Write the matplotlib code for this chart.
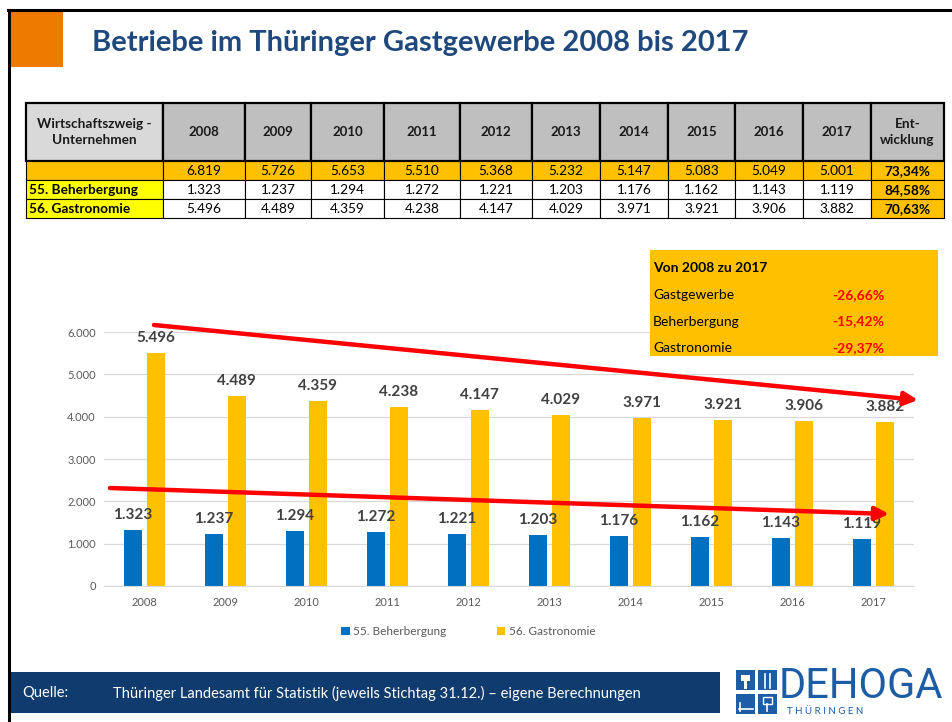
import matplotlib
matplotlib.use('Agg')
import matplotlib.pyplot as plt
from matplotlib.patches import Rectangle
import numpy as np

## Data
years = ['2008', '2009', '2010', '2011', '2012', '2013', '2014', '2015', '2016', '2017']
gesamt = [6819, 5726, 5653, 5510, 5368, 5232, 5147, 5083, 5049, 5001]
beherbergung = [1323, 1237, 1294, 1272, 1221, 1203, 1176, 1162, 1143, 1119]
gastronomie = [5496, 4489, 4359, 4238, 4147, 4029, 3971, 3921, 3906, 3882]
row_labels = ['', '55. Beherbergung', '56. Gastronomie']
entwicklung = ['73,34%', '84,58%', '70,63%']
box_labels = ['Gastgewerbe', 'Beherbergung', 'Gastronomie']
box_changes = ['-26,66%', '-15,42%', '-29,37%']

## Colours
BLUE = '#0070C0'
ORANGE = '#FFC000'
TITLE_BLUE = '#1F497D'
NAVY = '#0F3B6F'
FONT = 'Lato'

plt.rcParams['font.family'] = [FONT, 'DejaVu Sans']

W, H = 953, 722
fig = plt.figure(figsize=(W / 100, H / 100), dpi=100)


def px_axes(z):
    a = fig.add_axes([0, 0, 1, 1], zorder=z)
    a.set_xlim(0, W)
    a.set_ylim(H, 0)
    a.axis('off')
    a.patch.set_alpha(0)
    return a


def fmt(v):
    return f'{v:,}'.replace(',', '.')


bg = px_axes(0)

# frame + orange square + title
bg.plot([9, 9], [10, H], color='black', lw=2.2)
bg.plot([8, W], [10, 10], color='black', lw=2.2)
bg.add_patch(Rectangle((10, 12), 53, 55, color='#EE7B00', lw=0))
bg.text(92, 43, 'Betriebe im Thüringer Gastgewerbe 2008 bis 2017', fontsize=21,
        fontweight='bold', color=TITLE_BLUE, va='center', ha='left')

# table
col_edges = [26, 163, 245, 311, 384, 460, 532, 600, 668, 735, 803, 871, 944]
row_edges = [103, 161, 180, 199, 218]
header = ['Wirtschaftszweig -\nUnternehmen'] + years + ['Ent-\nwicklung']
rows = [
    [row_labels[0]] + [fmt(v) for v in gesamt] + [entwicklung[0]],
    [row_labels[1]] + [fmt(v) for v in beherbergung] + [entwicklung[1]],
    [row_labels[2]] + [fmt(v) for v in gastronomie] + [entwicklung[2]],
]
for j in range(len(col_edges) - 1):
    x0, x1 = col_edges[j], col_edges[j + 1]
    fc = '#D9D9D9' if j == 0 else '#BFBFBF'
    bg.add_patch(Rectangle((x0, row_edges[0]), x1 - x0, row_edges[1] - row_edges[0],
                           facecolor=fc, edgecolor='black', lw=1.6))
    bg.text((x0 + x1) / 2, (row_edges[0] + row_edges[1]) / 2, header[j],
            fontsize=9.8 if j in (0, len(col_edges) - 2) else 9.5,
            fontweight='bold', ha='center', va='center', color='#1a1a1a', linespacing=1.5)
    for i, r in enumerate(rows):
        y0, y1 = row_edges[i + 1], row_edges[i + 2]
        last = j == len(col_edges) - 2
        if i == 0 or last:
            fc = ORANGE
        elif j == 0:
            fc = '#FFFF00'
        else:
            fc = 'white'
        bg.add_patch(Rectangle((x0, y0), x1 - x0, y1 - y0, facecolor=fc,
                               edgecolor='black', lw=0.8))
        if j == 0:
            bg.text(x0 + 3, (y0 + y1) / 2 + 0.5, r[j], fontsize=9.8, fontweight='bold',
                    ha='left', va='center', color='black')
        else:
            bg.text((x0 + x1) / 2, (y0 + y1) / 2 + 0.5, r[j], fontsize=9.8,
                    fontweight='bold' if last else 'normal', ha='center', va='center',
                    color='black')

# footer
bg.add_patch(Rectangle((10, 672), 710, 41, color=NAVY, lw=0))
bg.text(22, 693, 'Quelle:', fontsize=10.5, color='white', va='center')
bg.text(113, 693, 'Thüringer Landesamt für Statistik (jeweils Stichtag 31.12.) – eigene Berechnungen',
        fontsize=10.5, color='white', va='center')

# logo
LOGO = '#1C5DA6'
for (lx, ly) in [(736, 670), (758, 670), (736, 694), (758, 694)]:
    bg.add_patch(Rectangle((lx, ly), 19, 20, color=LOGO, lw=0))
bg.add_patch(Rectangle((741, 675), 9, 6, color='white', lw=0))
bg.add_patch(Rectangle((744, 681), 3, 8, color='white', lw=0))
bg.plot([765, 765], [674, 688], color='white', lw=1.2)
bg.plot([770, 770], [674, 688], color='white', lw=1.2)
bg.plot([739, 753], [709, 709], color='white', lw=1.2)
bg.plot([740, 740], [703, 711], color='white', lw=1.2)
bg.plot([767.5, 767.5], [704, 711], color='white', lw=1.2)
bg.add_patch(Rectangle((763, 697), 9, 7, facecolor='none', edgecolor='white', lw=1))
bg.text(779, 686, 'DEHOGA', fontsize=30, color=LOGO, va='center', ha='left',
        family='Roboto')
bg.text(787, 712, 'T H Ü R I N G E N', fontsize=7, color=LOGO, va='center', ha='left')

# chart
ax = fig.add_axes([104 / W, 1 - 586 / H, 810 / W, (586 - 332) / H], zorder=1)
ax.patch.set_alpha(0)
x = np.arange(len(years))
bw = 0.22
b1 = ax.bar(x - 0.145, beherbergung, bw, color=BLUE, label='55. Beherbergung', zorder=2)
b2 = ax.bar(x + 0.14, gastronomie, bw, color=ORANGE, label='56. Gastronomie', zorder=2)
for bars in (b1, b2):
    for rect in bars:
        h = rect.get_height()
        ax.text(rect.get_x() + rect.get_width() / 2, h + 190, fmt(int(h)), ha='center',
                va='bottom', fontsize=11, fontweight='bold', color='#404040')
ax.set_xlim(-0.5, len(years) - 0.5)
ax.set_ylim(0, 6000)
ax.set_yticks(range(0, 6001, 1000))
ax.set_yticklabels([fmt(v) for v in range(0, 6001, 1000)])
ax.set_xticks(x)
ax.set_xticklabels(years)
ax.tick_params(length=0, labelsize=8, labelcolor='#595959', pad=8)
ax.tick_params(axis='y', pad=6)
ax.grid(axis='y', color='#D9D9D9', lw=0.9, zorder=0)
ax.set_axisbelow(True)
for s in ['top', 'right', 'left']:
    ax.spines[s].set_visible(False)
ax.spines['bottom'].set_color('#D9D9D9')
leg = ax.legend(loc='upper center', bbox_to_anchor=(0.45, -0.115), ncol=2, frameon=False,
                fontsize=8.5, handlelength=0.7, handleheight=0.7, columnspacing=4.3,
                handletextpad=0.3)
for t in leg.get_texts():
    t.set_color('#595959')

# overlay: change box and trend arrows
ov = px_axes(2)
ov.add_patch(Rectangle((650, 250), 288, 106, color=ORANGE, lw=0))
ov.text(653, 268, 'Von 2008 zu 2017', fontsize=10, fontweight='bold', va='center')
for k, (lab, ch) in enumerate(zip(box_labels, box_changes)):
    yy = 295 + k * 26.5
    ov.text(653, yy, lab, fontsize=10, va='center')
    ov.text(858, yy, ch, fontsize=10, va='center', ha='center', color='#FF0000',
            fontweight='bold')
arrow = dict(arrowstyle='-|>,head_length=0.8,head_width=0.4', color='#FF0000',
             lw=3.2, shrinkA=0, shrinkB=0, mutation_scale=10)
ov.annotate('', xy=(918, 400), xytext=(154, 325), arrowprops=arrow)
ov.annotate('', xy=(889, 514), xytext=(110, 488), arrowprops=arrow)

fig.savefig('out.png', dpi=100)
